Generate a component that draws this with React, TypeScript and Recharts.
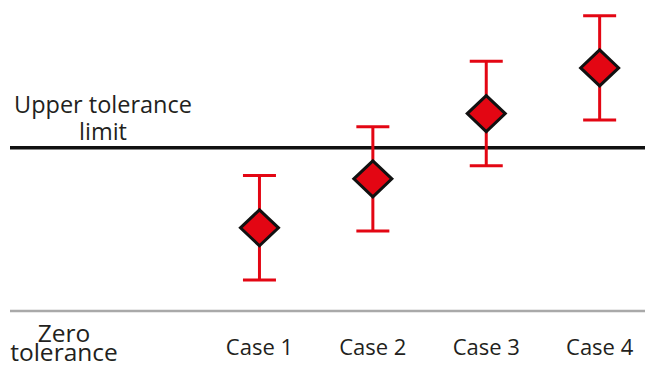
import React from 'react';
import { ComposedChart, Scatter, XAxis, YAxis, ReferenceLine, ErrorBar, Label } from 'recharts';

// Measurement cases along the horizontal axis
const caseNames = ['Case 1', 'Case 2', 'Case 3', 'Case 4'];
const casePositions = [1, 2, 3, 4];
// Measured value of each case and its uncertainty (± half-range of the error bar)
const measuredValues = [51, 81, 121, 149];
const uncertainty = [32, 32, 32, 32];
// Reference levels
const zeroTolerance = 0;
const upperToleranceLimit = 100;
const upperLabelLines = ['Upper tolerance', 'limit'];
const zeroLabelLines = ['Zero', 'tolerance'];

const data = caseNames.map((name, i) => ({
  name,
  x: casePositions[i],
  y: measuredValues[i],
  err: uncertainty[i],
}));

const RED = '#e30613';
const FONT = '"Open Sans", sans-serif';
const TEXT_COLOR = '#231f20';
const TEXT_WEIGHT = 500;

const Diamond = (props: any) => {
  const { cx, cy } = props;
  if (cx == null || cy == null) return null;
  const hw = 19;
  const hh = 18;
  const pts = `${cx},${cy - hh} ${cx + hw},${cy} ${cx},${cy + hh} ${cx - hw},${cy}`;
  return <polygon points={pts} fill={RED} stroke="#111" strokeWidth={3} strokeLinejoin="miter" />;
};

const TwoLineLabel = (props: any) => {
  const { viewBox, lines, cx, dy1, dy2, fontSize } = props;
  if (!viewBox) return null;
  const x = viewBox.x + cx;
  const y = viewBox.y;
  return (
    <text
      x={x}
      y={y}
      textAnchor="middle"
      fontFamily={FONT}
      fontSize={fontSize}
      fontWeight={TEXT_WEIGHT}
      fill={TEXT_COLOR}
    >
      <tspan x={x} y={y + dy1}>{lines[0]}</tspan>
      <tspan x={x} y={y + dy2}>{lines[1]}</tspan>
    </text>
  );
};

export default function App() {
  return (
    <div style={{ position: 'absolute', left: 0, top: 0, background: '#fff' }}>
      <ComposedChart width={645} height={365} data={data} margin={{ top: 1, right: 0, bottom: 0, left: 10 }}>
        <YAxis type="number" domain={[0, 190]} hide />
        <XAxis
          type="number"
          dataKey="x"
          domain={[-1.2, 4.4]}
          ticks={casePositions}
          tickFormatter={(v: number) => caseNames[casePositions.indexOf(v)] ?? ''}
          axisLine={false}
          tickLine={false}
          tickSize={0}
          tickMargin={28}
          height={54}
          tick={{ fontFamily: FONT, fontSize: 22, fontWeight: TEXT_WEIGHT, fill: TEXT_COLOR }}
        />
        <ReferenceLine
          y={zeroTolerance}
          stroke="#a9a9a9"
          strokeWidth={2.5}
          zIndex={-50}
          label={<Label content={<TwoLineLabel lines={zeroLabelLines} cx={54} dy1={31} dy2={50} fontSize={24.5} />} />}
        />
        <ReferenceLine
          y={upperToleranceLimit}
          stroke="#111"
          strokeWidth={3.5}
          zIndex={-50}
          label={<Label content={<TwoLineLabel lines={upperLabelLines} cx={93} dy1={-35} dy2={-8} fontSize={23.5} />} />}
        />
        <Scatter dataKey="y" shape={<Diamond />} isAnimationActive={false}>
          <ErrorBar dataKey="err" direction="y" width={16.5} stroke={RED} strokeWidth={3} />
        </Scatter>
      </ComposedChart>
    </div>
  );
}
